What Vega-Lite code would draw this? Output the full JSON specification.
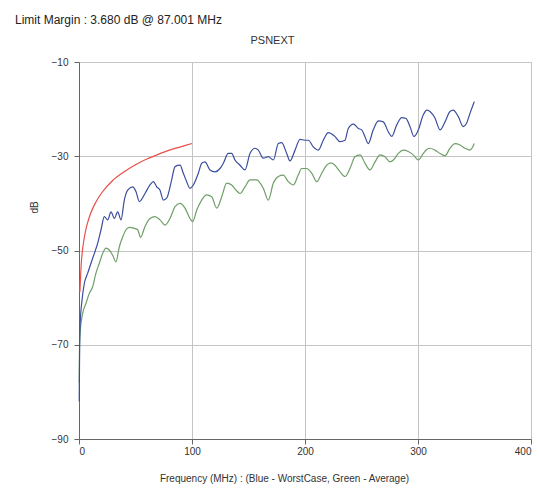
{
  "$schema": "https://vega.github.io/schema/vega-lite/v6.json",
  "width": 452,
  "height": 377,
  "autosize": "none",
  "padding": {"left": 79, "top": 62, "right": 8, "bottom": 51},
  "background": "white",
  "config": {
    "font": "Liberation Sans",
    "view": {"stroke": null},
    "axis": {"labelFont": "Liberation Sans", "titleFont": "Liberation Sans", "labelColor": "#333", "titleColor": "#333", "titleFontWeight": "normal", "labelFontSize": 10, "titleFontSize": 10, "gridColor": "#c4c4c4", "gridOpacity": 1, "domainColor": "#666", "tickColor": "#666"}
  },
  "title": {"text": "Limit Margin : 3.680 dB @ 87.001 MHz", "anchor": "start", "frame": "group", "dx": -64, "fontSize": 12, "fontWeight": "normal", "color": "#222", "font": "Liberation Sans", "baseline": "bottom", "offset": -5},
  "datasets": {
    "limit": [
      {"f": 0.8, "db": -58.8}, {"f": 2, "db": -52.8}, {"f": 4, "db": -48.3}, {"f": 6, "db": -45.6}, {"f": 8, "db": -43.8}, {"f": 10, "db": -42.3}, {"f": 15, "db": -39.7}, {"f": 20, "db": -37.8}, {"f": 30, "db": -35.1}, {"f": 40, "db": -33.3}, {"f": 50, "db": -31.8}, {"f": 60, "db": -30.6}, {"f": 70, "db": -29.6}, {"f": 80, "db": -28.7}, {"f": 90, "db": -28.0}, {"f": 100, "db": -27.3}
    ],
    "worst": [
      {"f": 0.2, "db": -82}, {"f": 0.5, "db": -72}, {"f": 0.9, "db": -66.2}, {"f": 2.7, "db": -60.5}, {"f": 4.7, "db": -57}, {"f": 7.7, "db": -54.8}, {"f": 10.6, "db": -52.7}, {"f": 13.6, "db": -50.6}, {"f": 16.5, "db": -48.5}, {"f": 19.5, "db": -45.6}, {"f": 22.4, "db": -42.8}, {"f": 25.4, "db": -43.5}, {"f": 28.3, "db": -41.8}, {"f": 31.3, "db": -43.2}, {"f": 34.2, "db": -41.8}, {"f": 37.2, "db": -43.5}, {"f": 40.1, "db": -39.3}, {"f": 43.1, "db": -37.2}, {"f": 47.5, "db": -36.5}, {"f": 50.4, "db": -37.5}, {"f": 53.4, "db": -39.6}, {"f": 58.4, "db": -37.9}, {"f": 62.8, "db": -36.1}, {"f": 65.8, "db": -35.4}, {"f": 68.8, "db": -36.5}, {"f": 71.7, "db": -37.2}, {"f": 74.6, "db": -39.3}, {"f": 77.6, "db": -38.9}, {"f": 82, "db": -35.0}, {"f": 85, "db": -32.2}, {"f": 89.4, "db": -31.9}, {"f": 92.3, "db": -33.6}, {"f": 95.3, "db": -35.4}, {"f": 98.2, "db": -36.8}, {"f": 101.2, "db": -36.1}, {"f": 105.6, "db": -33.6}, {"f": 108.6, "db": -31.5}, {"f": 111.5, "db": -31.2}, {"f": 115.9, "db": -32.9}, {"f": 120.4, "db": -33.3}, {"f": 124.8, "db": -32.6}, {"f": 127.7, "db": -31.5}, {"f": 132.1, "db": -29.4}, {"f": 135.1, "db": -29.4}, {"f": 138, "db": -30.8}, {"f": 142.5, "db": -31.9}, {"f": 146.9, "db": -32.9}, {"f": 151.3, "db": -29.4}, {"f": 155.8, "db": -28.3}, {"f": 158.7, "db": -28.7}, {"f": 163.1, "db": -30.4}, {"f": 167.5, "db": -30.1}, {"f": 172, "db": -30.8}, {"f": 176.4, "db": -27.3}, {"f": 179.4, "db": -27.1}, {"f": 183.8, "db": -29.4}, {"f": 186.7, "db": -31.0}, {"f": 191.2, "db": -28.7}, {"f": 195.6, "db": -26.4}, {"f": 200, "db": -26.6}, {"f": 203, "db": -26.6}, {"f": 207.3, "db": -28.0}, {"f": 211.8, "db": -28.7}, {"f": 216.2, "db": -26.6}, {"f": 220.6, "db": -25.0}, {"f": 226.5, "db": -25.8}, {"f": 231, "db": -26.9}, {"f": 235.4, "db": -26.6}, {"f": 238.3, "db": -24.1}, {"f": 242.8, "db": -23.2}, {"f": 247.2, "db": -24.1}, {"f": 250.2, "db": -24.4}, {"f": 253, "db": -25.8}, {"f": 256, "db": -27.3}, {"f": 260.4, "db": -24.4}, {"f": 264.9, "db": -22.5}, {"f": 269.3, "db": -22.7}, {"f": 273.7, "db": -24.8}, {"f": 276.7, "db": -25.8}, {"f": 281.1, "db": -23.4}, {"f": 285.6, "db": -21.8}, {"f": 289.4, "db": -22.0}, {"f": 292.9, "db": -23.7}, {"f": 296.5, "db": -25.8}, {"f": 300.3, "db": -24.4}, {"f": 304.7, "db": -21.2}, {"f": 308, "db": -20.2}, {"f": 310.6, "db": -20.5}, {"f": 315, "db": -21.9}, {"f": 319.5, "db": -24.4}, {"f": 323.9, "db": -22.7}, {"f": 328.3, "db": -20.5}, {"f": 331.2, "db": -20.2}, {"f": 335.7, "db": -21.6}, {"f": 340, "db": -23.7}, {"f": 343, "db": -23.0}, {"f": 346, "db": -20.9}, {"f": 349.8, "db": -18.4}
    ],
    "avg": [
      {"f": 0.2, "db": -78}, {"f": 0.5, "db": -70}, {"f": 1, "db": -67.6}, {"f": 3.3, "db": -63.3}, {"f": 6.2, "db": -61.2}, {"f": 9.1, "db": -59.1}, {"f": 12.1, "db": -57.7}, {"f": 15, "db": -54.8}, {"f": 18, "db": -52.7}, {"f": 21, "db": -50.6}, {"f": 23.9, "db": -49.5}, {"f": 26.8, "db": -49.9}, {"f": 29.8, "db": -51.0}, {"f": 32.7, "db": -52.4}, {"f": 35.7, "db": -49.2}, {"f": 38.7, "db": -47.1}, {"f": 41.6, "db": -45.6}, {"f": 44.5, "db": -45.1}, {"f": 49, "db": -45.3}, {"f": 51.9, "db": -45.6}, {"f": 54.5, "db": -47.2}, {"f": 58.4, "db": -44.9}, {"f": 62.8, "db": -43.2}, {"f": 67.3, "db": -42.8}, {"f": 71.7, "db": -43.5}, {"f": 76.1, "db": -44.6}, {"f": 80.5, "db": -43.2}, {"f": 85, "db": -40.7}, {"f": 89.4, "db": -40.0}, {"f": 93.8, "db": -41.0}, {"f": 98.2, "db": -43.2}, {"f": 100.6, "db": -43.9}, {"f": 104.2, "db": -41.4}, {"f": 108.6, "db": -39.3}, {"f": 113, "db": -38.2}, {"f": 117.4, "db": -38.6}, {"f": 121.9, "db": -41.0}, {"f": 126.3, "db": -38.6}, {"f": 130.7, "db": -35.7}, {"f": 135.1, "db": -36.1}, {"f": 139, "db": -37.2}, {"f": 142.5, "db": -37.9}, {"f": 146.9, "db": -36.5}, {"f": 151.3, "db": -35.0}, {"f": 157.2, "db": -35.0}, {"f": 163.1, "db": -36.8}, {"f": 167.5, "db": -39.3}, {"f": 172, "db": -35.7}, {"f": 176.4, "db": -34.3}, {"f": 180.8, "db": -34.0}, {"f": 185.2, "db": -35.4}, {"f": 189.6, "db": -36.1}, {"f": 194, "db": -34.0}, {"f": 197, "db": -32.6}, {"f": 201.5, "db": -32.6}, {"f": 205.9, "db": -33.6}, {"f": 210.4, "db": -35.4}, {"f": 214.8, "db": -33.6}, {"f": 219.2, "db": -31.9}, {"f": 223, "db": -31.4}, {"f": 226.5, "db": -31.9}, {"f": 231, "db": -33.3}, {"f": 235.4, "db": -34.3}, {"f": 239.8, "db": -32.6}, {"f": 244.2, "db": -30.1}, {"f": 248.7, "db": -29.7}, {"f": 253.1, "db": -31.5}, {"f": 257.5, "db": -32.9}, {"f": 262, "db": -31.2}, {"f": 266.4, "db": -29.7}, {"f": 270.8, "db": -30.1}, {"f": 275.2, "db": -31.2}, {"f": 278.2, "db": -30.8}, {"f": 282.6, "db": -29.4}, {"f": 287, "db": -28.7}, {"f": 291.4, "db": -29.0}, {"f": 295.8, "db": -29.7}, {"f": 300.3, "db": -30.8}, {"f": 304.7, "db": -29.4}, {"f": 308, "db": -28.5}, {"f": 310.6, "db": -28.3}, {"f": 315, "db": -28.7}, {"f": 319.5, "db": -29.4}, {"f": 323.9, "db": -29.9}, {"f": 328.3, "db": -28.3}, {"f": 332.7, "db": -27.3}, {"f": 337.2, "db": -27.6}, {"f": 341.6, "db": -28.3}, {"f": 346, "db": -28.7}, {"f": 349.8, "db": -27.3}
    ]
  },
  "resolve": {"axis": {"x": "independent"}},
  "layer": [
    {
      "data": {"name": "avg"},
      "mark": {"type": "line", "color": "#6e9f66", "strokeWidth": 1.2, "interpolate": "monotone"},
      "encoding": {
        "x": {"field": "f", "type": "quantitative", "scale": {"domain": [0, 400], "nice": false},
          "axis": {"values": [0, 100, 200, 300, 400], "grid": true, "tickSize": 5, "labelPadding": 2, "title": "Frequency (MHz) : (Blue - WorstCase, Green - Average)", "titleX": 205, "titleY": 39, "titleBaseline": "middle", "titleAnchor": null, "titleAlign": "center"}},
        "y": {"field": "db", "type": "quantitative", "scale": {"domain": [-90, -10], "nice": false, "zero": false},
          "axis": {"values": [-90, -70, -50, -30, -10], "grid": true, "tickSize": 5, "labelPadding": 6, "title": "dB", "titleX": -45, "titleY": 145, "titleBaseline": "middle", "titleAlign": "center", "titleAngle": 270}}
      }
    },
    {
      "data": {"name": "worst"},
      "mark": {"type": "line", "color": "#3b4d9c", "strokeWidth": 1.2, "interpolate": "monotone"},
      "encoding": {
        "x": {"field": "f", "type": "quantitative", "axis": null},
        "y": {"field": "db", "type": "quantitative"}
      }
    },
    {
      "data": {"name": "limit"},
      "mark": {"type": "line", "color": "#e8504a", "strokeWidth": 1.2, "interpolate": "monotone"},
      "encoding": {
        "x": {"field": "f", "type": "quantitative",
          "axis": {"orient": "top", "labels": false, "ticks": false, "domain": false, "grid": false, "title": "PSNEXT", "titleFontSize": 11, "titleX": 193, "titleY": -22, "titleBaseline": "middle", "titleAlign": "center"}},
        "y": {"field": "db", "type": "quantitative"}
      }
    }
  ]
}
